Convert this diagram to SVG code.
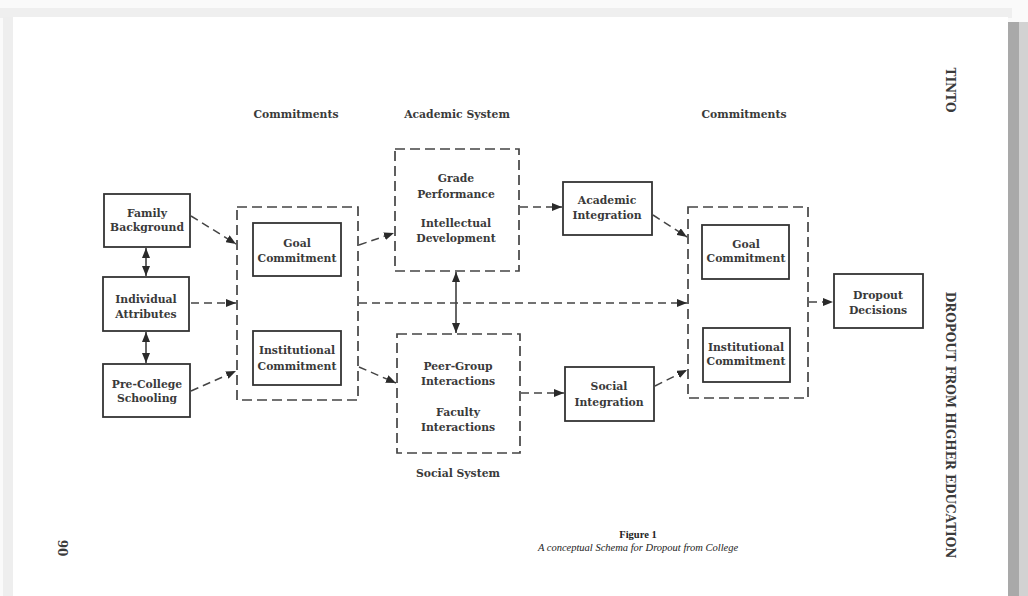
<svg xmlns="http://www.w3.org/2000/svg" width="1028" height="596" viewBox="0 0 1028 596">
  <defs>
    <marker id="head" viewBox="0 0 10 8" refX="10" refY="4" markerWidth="10" markerHeight="8" markerUnits="userSpaceOnUse" orient="auto-start-reverse">
      <path d="M0,0 L10,4 L0,8 Z" fill="#2a2a2a"/>
    </marker>
    <style>
      .box { fill: #ffffff; stroke: #333333; stroke-width: 1.8; }
      .group { fill: none; stroke: #444444; stroke-width: 1.7; stroke-dasharray: 10 5; }
      .link { fill: none; stroke: #444444; stroke-width: 1.5; stroke-dasharray: 8 5; marker-end: url(#head); }
      .both { fill: none; stroke: #333333; stroke-width: 1.5; marker-start: url(#head); marker-end: url(#head); }
      .t { font-family: "DejaVu Serif", "Liberation Serif", serif; font-size: 10.8px; font-weight: bold; fill: #3a3a3a; text-anchor: middle; }
      .side { font-family: "DejaVu Serif", "Liberation Serif", serif; font-size: 12px; fill: #3a3a3a; text-anchor: middle; font-weight: bold; }
      .cap { font-family: "Liberation Serif", "DejaVu Serif", serif; font-size: 10.5px; fill: #222222; text-anchor: middle; }
    </style>
  </defs>

  <!-- page and scan border -->
  <rect x="0" y="0" width="1028" height="596" fill="#fafafa"/>
  <rect x="0" y="8" width="1012" height="10" fill="#efefef"/>
  <rect x="3" y="17" width="10" height="579" fill="#eeeeee"/>
  <rect x="13" y="17" width="995" height="579" fill="#ffffff"/>
  <rect x="1008" y="22" width="11" height="574" fill="#a9a9a9"/>
  <rect x="1019" y="22" width="9" height="574" fill="#d2d2d2"/>

  <!-- column headings -->
  <text class="t" x="296" y="118">Commitments</text>
  <text class="t" x="457" y="118">Academic System</text>
  <text class="t" x="744" y="118">Commitments</text>
  <text class="t" x="458" y="477">Social System</text>

  <!-- connectors -->
  <g id="connectors">
    <line class="both" x1="146" y1="248" x2="146" y2="276"/>
    <line class="both" x1="146" y1="332" x2="146" y2="363"/>
    <line class="link" x1="191" y1="216" x2="236" y2="244"/>
    <line class="link" x1="191" y1="303" x2="236" y2="303"/>
    <line class="link" x1="191" y1="391" x2="236" y2="371"/>
    <line class="link" x1="359" y1="245" x2="394" y2="233"/>
    <line class="link" x1="359" y1="367" x2="396" y2="383"/>
    <line class="both" x1="456" y1="272" x2="456" y2="333"/>
    <line class="link" x1="520" y1="207" x2="562" y2="207"/>
    <line class="link" x1="521" y1="393" x2="564" y2="393"/>
    <line class="link" x1="359" y1="303" x2="687" y2="303"/>
    <line class="link" x1="653" y1="215" x2="687" y2="237"/>
    <line class="link" x1="655" y1="386" x2="687" y2="370"/>
    <line class="link" x1="809" y1="302" x2="833" y2="302"/>
  </g>

  <g id="family-background">
    <rect class="box" x="104" y="194" width="86" height="53"/>
    <text class="t" x="147" y="217">Family</text>
    <text class="t" x="147" y="231">Background</text>
  </g>
  <g id="individual-attributes">
    <rect class="box" x="103" y="277" width="86" height="54"/>
    <text class="t" x="146" y="303">Individual</text>
    <text class="t" x="146" y="318">Attributes</text>
  </g>
  <g id="pre-college-schooling">
    <rect class="box" x="103" y="364" width="87" height="53"/>
    <text class="t" x="147" y="388">Pre-College</text>
    <text class="t" x="147" y="402">Schooling</text>
  </g>

  <g id="commitments-initial">
    <rect class="group" x="237" y="207" width="121" height="193"/>
    <g id="goal-commitment-1">
      <rect class="box" x="253" y="223" width="88" height="53"/>
      <text class="t" x="297" y="247">Goal</text>
      <text class="t" x="297" y="262">Commitment</text>
    </g>
    <g id="institutional-commitment-1">
      <rect class="box" x="253" y="331" width="88" height="54"/>
      <text class="t" x="297" y="354">Institutional</text>
      <text class="t" x="297" y="370">Commitment</text>
    </g>
  </g>

  <g id="academic-system">
    <rect class="group" x="395" y="149" width="124" height="122"/>
    <text class="t" x="456" y="182">Grade</text>
    <text class="t" x="456" y="198">Performance</text>
    <text class="t" x="456" y="227">Intellectual</text>
    <text class="t" x="456" y="242">Development</text>
  </g>
  <g id="social-system">
    <rect class="group" x="397" y="334" width="123" height="119"/>
    <text class="t" x="458" y="370">Peer-Group</text>
    <text class="t" x="458" y="385">Interactions</text>
    <text class="t" x="458" y="416">Faculty</text>
    <text class="t" x="458" y="431">Interactions</text>
  </g>

  <g id="academic-integration">
    <rect class="box" x="563" y="182" width="89" height="53"/>
    <text class="t" x="607" y="204">Academic</text>
    <text class="t" x="607" y="219">Integration</text>
  </g>
  <g id="social-integration">
    <rect class="box" x="565" y="367" width="89" height="54"/>
    <text class="t" x="609" y="390">Social</text>
    <text class="t" x="609" y="406">Integration</text>
  </g>

  <g id="commitments-later">
    <rect class="group" x="688" y="207" width="120" height="191"/>
    <g id="goal-commitment-2">
      <rect class="box" x="702" y="225" width="87" height="54"/>
      <text class="t" x="746" y="248">Goal</text>
      <text class="t" x="746" y="262">Commitment</text>
    </g>
    <g id="institutional-commitment-2">
      <rect class="box" x="703" y="328" width="87" height="54"/>
      <text class="t" x="746" y="351">Institutional</text>
      <text class="t" x="746" y="365">Commitment</text>
    </g>
  </g>

  <g id="dropout-decisions">
    <rect class="box" x="834" y="274" width="89" height="54"/>
    <text class="t" x="878" y="299">Dropout</text>
    <text class="t" x="878" y="314">Decisions</text>
  </g>

  <!-- caption -->
  <text class="cap" x="638" y="538" font-weight="bold">Figure 1</text>
  <text class="cap" x="638" y="551" font-style="italic">A conceptual Schema for Dropout from College</text>

  <!-- running heads and folio -->
  <text class="side" transform="translate(946,90) rotate(90)">TINTO</text>
  <text class="side" transform="translate(946,425) rotate(90)">DROPOUT FROM HIGHER EDUCATION</text>
  <text class="side" transform="translate(58,548) rotate(90)">90</text>
</svg>
